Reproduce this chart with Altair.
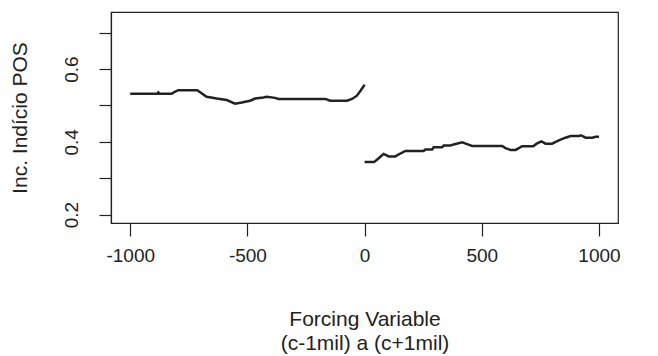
import altair as alt
import pandas as pd

# Left of cutoff
left_x = [-1000, -885, -880, -875, -823, -812, -795, -714, -674, -631, -588, -553, -524,
          -489, -467, -432, -418, -382, -368, -168, -147, -75, -54, -33, -16, 0]
left_y = [0.532, 0.532, 0.536, 0.532, 0.532, 0.537, 0.542, 0.542, 0.524, 0.519, 0.515, 0.505, 0.508,
          0.513, 0.519, 0.522, 0.524, 0.521, 0.518, 0.518, 0.513, 0.513, 0.518, 0.527, 0.542, 0.557]

# Right of cutoff
right_x = [0, 41, 60, 81, 103, 131, 152, 174, 252, 259, 288, 295, 330, 338, 366, 380, 416, 437,
           459, 587, 601, 622, 644, 658, 672, 719, 734, 754, 772, 800, 815, 836, 857, 879, 915,
           922, 930, 943, 971, 986, 1000]
right_y = [0.345, 0.345, 0.355, 0.367, 0.360, 0.360, 0.368, 0.375, 0.375, 0.379, 0.379, 0.385,
           0.385, 0.390, 0.390, 0.393, 0.399, 0.394, 0.389, 0.389, 0.383, 0.378, 0.378, 0.383,
           0.388, 0.388, 0.395, 0.4015, 0.395, 0.395, 0.400, 0.406, 0.4115, 0.416, 0.416, 0.418,
           0.416, 0.4115, 0.4115, 0.414, 0.414]

x_ticks = [-1000, -500, 0, 500, 1000]
y_ticks = [0.2, 0.3, 0.4, 0.5, 0.6, 0.7]
y_labels = ["0.2", "0.4", "0.6"]

df = pd.concat([
    pd.DataFrame({"x": left_x, "y": left_y, "side": "left"}),
    pd.DataFrame({"x": right_x, "y": right_y, "side": "right"}),
])

FONT = "Liberation Sans"
INK = "#222222"

label_expr = "indexof(" + str(y_labels) + ", datum.label) >= 0 ? datum.label : ''"

chart = alt.Chart(df).mark_line(color=INK, strokeWidth=2.5, interpolate="linear").encode(
    x=alt.X("x:Q",
            scale=alt.Scale(domain=[-1082, 1081], nice=False, zero=False),
            axis=alt.Axis(values=x_ticks, title=["Forcing Variable", "(c-1mil) a (c+1mil)"],
                          grid=False, tickSize=13, labelPadding=10, titlePadding=43,
                          titleLineHeight=24, titleFontSize=21,
                          labelExpr="toString(datum.value)")),
    y=alt.Y("y:Q",
            scale=alt.Scale(domain=[0.177, 0.757], nice=False, zero=False),
            axis=alt.Axis(values=y_ticks, title="Inc. Indício POS", grid=False, tickSize=12,
                          labelAngle=270, labelAlign="center", labelBaseline="bottom",
                          labelPadding=18, titlePadding=32, format=".1f", titleFontSize=21,
                          labelExpr=label_expr)),
    detail="side:N",
).properties(
    width=507,
    height=211,
    padding={"left": 111, "top": 12, "right": 40, "bottom": 133},
    autosize=alt.AutoSizeParams(type="none"),
    background="white",
).configure_view(
    stroke=INK, strokeWidth=1.2
).configure_axis(
    labelFont=FONT, titleFont=FONT, labelFontSize=19,
    labelColor=INK, titleColor=INK, tickColor=INK, domainColor=INK,
    titleFontWeight="normal", tickWidth=1.2, domainWidth=1.2,
)

chart.save("out.html", embed_options={"renderer": "svg", "actions": False})
